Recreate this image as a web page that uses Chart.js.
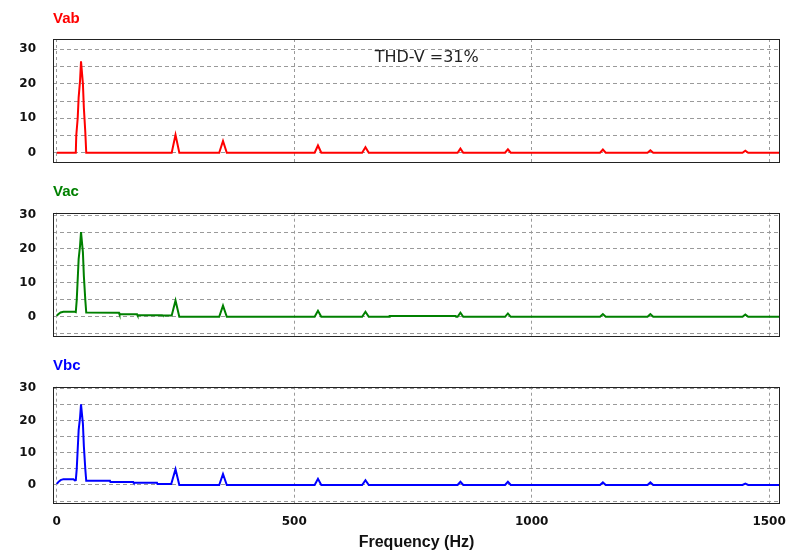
<!DOCTYPE html>
<html><head><meta charset="utf-8">
<script src="https://cdn.jsdelivr.net/npm/chart.js@4/dist/chart.umd.min.js"></script>
<style>
html,body{margin:0;padding:0;background:#fff;}
#wrap{position:relative;width:787px;height:553px;overflow:hidden;background:#fff}
canvas{position:absolute;left:0;}
</style></head><body>
<div id="wrap">
<canvas id="c1" width="840" height="200" style="top:0px"></canvas>
<canvas id="c2" width="840" height="200" style="top:170px"></canvas>
<canvas id="c3" width="840" height="213" style="top:340px"></canvas>
</div>
<script>
// ---- data ----
const xTickValues = [0, 500, 1000, 1500];
const yGridValues = [-5, 0, 5, 10, 15, 20, 25, 30];
const panelTitles = ['Vab', 'Vac', 'Vbc'];
const xAxisTitle = 'Frequency (Hz)';
const thdText = 'THD-V =31%';

const freqVab = [0,40,41,44,46,49,51,53,55,57,60,62, 242,250,258, 342,350,358, 543,550,557, 643,650,657, 844,850,856, 944,950,956, 1144,1150,1156, 1244,1250,1256, 1444,1450,1456, 1525];
const vab     = [0,0,5,10,16,21,26.5,26.5,20,13,6,0, 0,5.2,0, 0,3.4,0, 0,2.1,0, 0,1.6,0, 0,1.2,0, 0,1.0,0, 0,0.9,0, 0,0.7,0, 0,0.6,0, 0];

const freqVac = [0,3,8,14,38,40,42,44,46,49,51,53,55,57,60,62,131,132,169,170,222,223,242,250,258, 342,350,358, 543,550,557, 643,650,657, 700,701,840,841,844,850,856, 944,950,956, 1144,1150,1156, 1244,1250,1256, 1444,1450,1456, 1525];
const vac     = [0.3,0.8,1.3,1.5,1.5,1.4,5,11,17,21,25,25,19,12,5,1.3,1.2,0.8,0.8,0.5,0.5,0.4,0.4,4.8,0, 0,3.3,0, 0,1.8,0, 0,1.5,0, 0,0.25,0.25,0,0,1.2,0, 0,1.0,0, 0,0.8,0, 0,0.8,0, 0,0.7,0, 0];

const freqVbc = [0,3,8,14,35,38,40,42,44,46,49,51,53,55,57,60,62,112,113,161,162,211,212,241,250,258, 342,350,358, 543,550,557, 643,650,657, 844,850,856, 944,950,956, 1144,1150,1156, 1244,1250,1256, 1444,1450,1456, 1525];
const vbc     = [0.3,0.9,1.5,1.8,1.8,1.4,1.5,5,11,17,21,25,25,19,12,5,1.3,1.3,0.9,0.9,0.7,0.7,0.3,0.3,4.9,0, 0,3.4,0, 0,1.9,0, 0,1.5,0, 0,1.0,0, 0,1.0,0, 0,0.8,0, 0,0.8,0, 0,0.4,0, 0];

// ---- helpers ----
const pts = (fx, fy) => fx.map((x, i) => ({x: x, y: fy[i]}));

const panelDeco = {
  id: 'panelDeco',
  afterDatasetsDraw(chart, args, opts) {
    const {ctx, chartArea: a} = chart;
    ctx.save();
    ctx.strokeStyle = '#222';
    ctx.lineWidth = 1;
    ctx.setLineDash([]);
    ctx.strokeRect(Math.round(a.left) + 0.5, Math.round(a.top) + 0.5,
                   Math.round(a.right - a.left) - 1, Math.round(a.bottom - a.top));
    ctx.restore();
  },
  afterDraw(chart, args, opts) {
    const {ctx, chartArea: a} = chart;
    ctx.save();
    ctx.font = 'bold 15px "Liberation Sans", Arial, sans-serif';
    ctx.fillStyle = opts.color;
    ctx.textAlign = 'left';
    ctx.textBaseline = 'middle';
    ctx.fillText(opts.title, a.left, a.top - 20.5);
    if (opts.note) {
      const xs = chart.scales.x, ys = chart.scales.y;
      ctx.font = '16px "DejaVu Sans", sans-serif';
      ctx.fillStyle = '#222';
      ctx.textAlign = 'center';
      ctx.fillText(opts.note.text, xs.getPixelForValue(opts.note.x), ys.getPixelForValue(opts.note.y));
    }
    ctx.restore();
  }
};

function makePanel(id, data, color, title, yMin, yMax, pad, showX, note) {
  return new Chart(document.getElementById(id), {
    type: 'line',
    data: { datasets: [{ data: data, borderColor: color, borderWidth: 2, pointRadius: 0, tension: 0, fill: false }] },
    options: {
      responsive: false, animation: false, devicePixelRatio: 1,
      layout: { padding: { left: 0, right: 60, top: pad.top, bottom: pad.bottom } },
      plugins: { legend: { display: false }, tooltip: { enabled: false },
                 panelDeco: { title: title, color: color, note: note } },
      scales: {
        x: {
          type: 'linear', min: -8, max: 1523,
          afterBuildTicks: s => { s.ticks = xTickValues.map(v => ({value: v})); },
          afterFit: s => { s.height = showX ? 50.3 : 0; },
          grid: { color: '#9a9a9a', lineWidth: 1, drawTicks: false },
          border: { display: false, dash: [3, 3] },
          ticks: { display: showX, padding: 12, color: '#111', maxRotation: 0, autoSkip: false,
                   font: { family: '"DejaVu Sans", Verdana, sans-serif', size: 12, weight: 'bold' },
                   callback: v => String(v) },
          title: { display: showX, text: xAxisTitle, color: '#111', padding: {top: 0, bottom: 1},
                   font: { family: '"Liberation Sans", Arial, sans-serif', size: 16, weight: 'bold' } }
        },
        y: {
          type: 'linear', min: yMin, max: yMax,
          afterBuildTicks: s => { s.ticks = yGridValues.filter(v => v >= yMin && v <= yMax).map(v => ({value: v})); },
          afterFit: s => { s.width = 53; },
          grid: { color: '#9a9a9a', lineWidth: 1, drawTicks: false },
          border: { display: false, dash: [4, 3] },
          ticks: { padding: 17, color: '#111', autoSkip: false,
                   font: { family: '"DejaVu Sans", Verdana, sans-serif', size: 12, weight: 'bold' },
                   callback: v => (v >= 0 && v % 10 === 0) ? String(v) : '' }
        }
      }
    },
    plugins: [panelDeco]
  });
}

makePanel('c1', pts(freqVab, vab), '#ff0000', panelTitles[0], -2.7, 33.0, {top: 39, bottom: 38}, false,
          {text: thdText, x: 779, y: 27.6});
makePanel('c2', pts(freqVac, vac), '#008000', panelTitles[1], -5.5, 30.7, {top: 42.7, bottom: 34.5}, false, null);
makePanel('c3', pts(freqVbc, vbc), '#0000ff', panelTitles[2], -5.5, 30.5, {top: 46.7, bottom: 0}, true, null);
</script>
</body></html>
